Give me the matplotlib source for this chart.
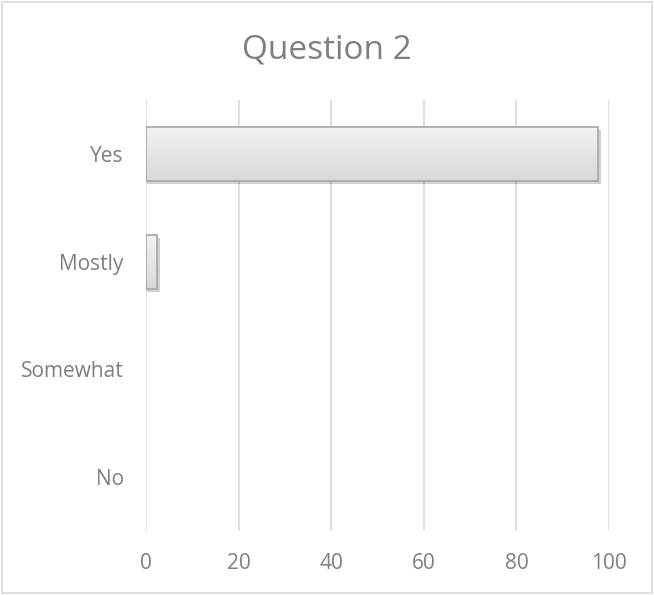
import numpy as np
import matplotlib
matplotlib.use("Agg")
import matplotlib.pyplot as plt
from matplotlib.patches import Rectangle

categories = ["Yes", "Mostly", "Somewhat", "No"]
values = [97.6, 2.4, 0, 0]
xticks = [0, 20, 40, 60, 80, 100]

plt.rcParams['font.family'] = ['Open Sans', 'DejaVu Sans']
text_col = "#7f7f7f"

fig = plt.figure(figsize=(6.54, 5.95), dpi=100)
ax = fig.add_axes([0.2232, 0.1076, 0.708, 0.7244])

# outer chart border
fig.patches.append(Rectangle((0.003, 0.003), 0.994, 0.994, transform=fig.transFigure,
                             fill=False, edgecolor="#d9d9d9", linewidth=1.2))

ypos = np.arange(len(categories))[::-1]
grad = np.linspace(0, 1, 64).reshape(-1, 1)
for y, v in zip(ypos, values):
    if v <= 0:
        continue
    # soft shadow
    ax.barh(y - 0.03, v + 0.5, height=0.5, left=0.2, color="#000000", alpha=0.18,
            zorder=2, linewidth=0)
    bars = ax.barh(y, v, height=0.5, color="none", edgecolor="#a6a6a6",
                   linewidth=1.2, zorder=4)
    im = ax.imshow(grad, extent=(0, v, y - 0.25, y + 0.25), aspect="auto",
                   cmap=matplotlib.colors.LinearSegmentedColormap.from_list(
                       "g", ["#d9d9d9", "#f2f2f2"]),
                   origin="lower", zorder=3)
    im.set_clip_path(bars[0])

ax.set_xlim(0, 100)
ax.set_ylim(-0.5, 3.5)
ax.set_xticks(xticks)
ax.set_yticks(ypos)
ax.set_yticklabels(categories)
ax.grid(axis="x", color="#d9d9d9", linewidth=1.2, zorder=0)
ax.set_axisbelow(True)
for s in ax.spines.values():
    s.set_visible(False)
ax.tick_params(length=0, labelsize=15, colors=text_col)
ax.tick_params(axis="y", pad=16)
ax.tick_params(axis="x", pad=16)

fig.text(0.5, 0.916, "Question 2", ha="center", va="center", fontsize=24, color=text_col)

fig.savefig("out.png", dpi=100)
